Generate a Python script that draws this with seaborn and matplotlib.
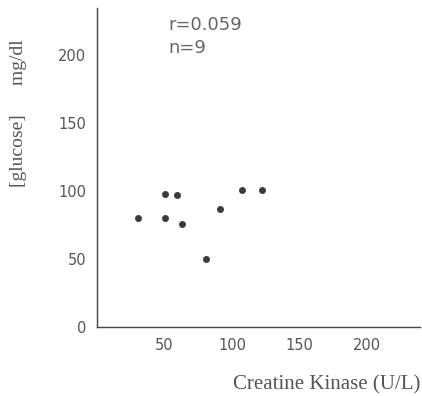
import numpy as np
import pandas as pd
import seaborn as sns
import matplotlib.pyplot as plt

# values
creatine_kinase = [30, 50, 50, 59, 63, 81, 91, 107, 122]
glucose = [80, 98, 80, 97, 76, 50, 87, 101, 101]
x_ticks = [50, 100, 150, 200]
y_ticks = [0, 50, 100, 150, 200]

data = pd.DataFrame({'CK': creatine_kinase, 'Glucose': glucose})

sns.set_style('white')
plt.rcParams['font.family'] = ['DejaVu Sans']

fig = plt.figure(figsize=(4.22, 3.96), dpi=100)
ax = fig.add_axes([0.23, 0.174, 0.765, 0.806])

sns.scatterplot(x='CK', y='Glucose', data=data, ax=ax, s=20, color='#3a3a3a',
                edgecolor='#3a3a3a', linewidth=0.5)

ax.set_xlim(0, 239)
ax.set_ylim(0, 235)
ax.set_xticks(x_ticks)
ax.set_yticks(y_ticks)
ax.set_xticklabels([str(t) for t in x_ticks], color='#555555', fontsize=10.5)
ax.set_yticklabels([str(t) for t in y_ticks], color='#555555', fontsize=10.5)
ax.tick_params(axis='both', length=2, width=0.8, color='#444444', pad=6)

for side in ['top', 'right']:
    ax.spines[side].set_visible(False)
for side in ['left', 'bottom']:
    ax.spines[side].set_color('#444444')
    ax.spines[side].set_linewidth(1.0)

ax.set_xlabel('')
ax.set_ylabel('')
fig.text(0.995, 0.028, 'Creatine Kinase (U/L)', ha='right', va='center',
         family='Liberation Serif', fontsize=15, color='#555555')
fig.text(0.043, 0.715, '[glucose]      mg/dl', rotation=90, ha='center', va='center',
         family='Liberation Serif', fontsize=14, color='#555555')

ax.text(0.22, 0.947, 'r=0.059', transform=ax.transAxes, fontsize=13,
        color='#666666', va='center')
ax.text(0.22, 0.875, 'n=9', transform=ax.transAxes, fontsize=13,
        color='#666666', va='center')

fig.savefig('out.png', dpi=100)
